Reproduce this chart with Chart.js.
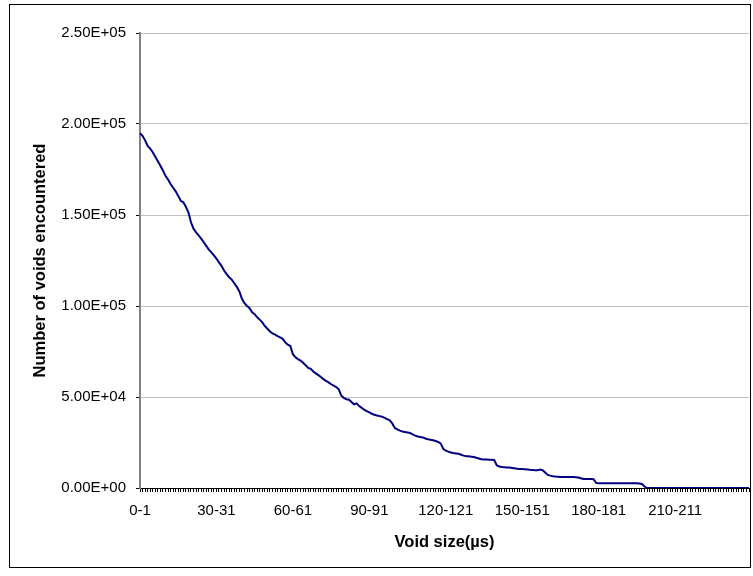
<!DOCTYPE html>
<html>
<head>
<meta charset="utf-8">
<title>Void size distribution</title>
<script src="https://cdn.jsdelivr.net/npm/chart.js@4.4.1/dist/chart.umd.min.js"></script>
<style>
  body { margin: 0; background: #fff; }
  #wrap { position: relative; width: 753px; height: 576px; }
</style>
</head>
<body>
<div id="wrap"><canvas id="voidChart" width="753" height="576"></canvas></div>
<script>
// number of voids (cumulative) per void size bin, 0-1 .. 239-240 us
var voidCounts = [
  195000, 193500, 191000, 188000, 186500, 184500, 182000, 179500, 177000, 174500,
  171500, 169500, 167000, 165000, 163000, 160500, 157800, 157000, 154500, 151500,
  146000, 142500, 140500, 138800, 137000, 135000, 133000, 131000, 129500, 127800,
  126000, 124000, 122000, 119500, 117500, 115800, 114500, 112500, 110500, 108000,
  104000, 101500, 100000, 98800, 96500, 95500, 93800, 92500, 91000, 89000,
  87500, 86000, 85000, 84300, 83500, 82800, 82000, 80000, 78800, 78000,
  73500, 71800, 70800, 70000, 68800, 67500, 66000, 65500, 64000, 63000,
  62000, 61000, 59800, 58800, 58000, 57000, 56200, 55500, 54200, 50800,
  49500, 48800, 48500, 47200, 46000, 46500, 45000, 44000, 43000, 42200,
  41500, 40800, 40200, 39800, 39500, 39200, 38500, 37800, 37200, 35500,
  33000, 32200, 31500, 31000, 30800, 30500, 30200, 29500, 28800, 28300,
  28000, 27800, 27200, 26800, 26500, 26200, 25800, 25300, 24500, 21500,
  20500, 20000, 19500, 19200, 19000, 18800, 18300, 17800, 17500, 17400,
  17200, 17000, 16600, 16200, 15800, 15600, 15600, 15500, 15500, 15400,
  12500, 11800, 11500, 11400, 11300, 11200, 11000, 10800, 10600, 10500,
  10400, 10300, 10200, 10000, 9900, 9800, 9700, 10200, 9800, 8500,
  7200, 6800, 6500, 6300, 6200, 6100, 6100, 6000, 6000, 6000,
  6000, 5900, 5800, 5400, 5000, 5000, 4900, 4900, 4800, 2800,
  2600, 2600, 2600, 2600, 2600, 2600, 2600, 2600, 2600, 2600,
  2600, 2600, 2600, 2600, 2600, 2600, 2500, 2200, 800, 0,
  0, 0, 0, 0, 0, 0, 0, 0, 0, 0,
  0, 0, 0, 0, 0, 0, 0, 0, 0, 0,
  0, 0, 0, 0, 0, 0, 0, 0, 0, 0,
  0, 0, 0, 0, 0, 0, 0, 0, 0, 0
];

// bin labels "0-1", "1-2", ... only every 30th one is shown on the axis
var sizeBins = [];
for (var i = 0; i < voidCounts.length; i++) {
  sizeBins.push(i + "-" + (i + 1));
}
var labelEvery = 30;

var yTicks = { min: 0, max: 250000, step: 50000 };

// Excel style scientific notation, e.g. 2.50E+05
function sciLabel(v) {
  if (v === 0) return "0.00E+00";
  var e = Math.floor(Math.log10(v));
  var m = v / Math.pow(10, e);
  return m.toFixed(2) + "E+" + String(e).padStart(2, "0");
}

// thin frame around the whole chart
var framePlugin = {
  id: "frame",
  afterDraw: function (chart) {
    var ctx = chart.ctx;
    ctx.save();
    ctx.strokeStyle = "#000";
    ctx.lineWidth = 1;
    ctx.strokeRect(9.5, 4.5, 741, 563);
    ctx.restore();
  }
};

var font = "'Liberation Sans', Arial, sans-serif";

var ctx = document.getElementById("voidChart").getContext("2d");
new Chart(ctx, {
  type: "line",
  data: {
    labels: sizeBins,
    datasets: [{
      data: voidCounts,
      borderColor: "#000080",
      borderWidth: 2,
      pointRadius: 0,
      tension: 0,
      fill: false
    }]
  },
  options: {
    responsive: false,
    animation: false,
    layout: { padding: { top: 33, right: 4, left: 0, bottom: 0 } },
    plugins: {
      legend: { display: false },
      tooltip: { enabled: false }
    },
    scales: {
      x: {
        type: "category",
        offset: false,
        afterFit: function (scale) {
          scale.height = 88;
          scale.paddingLeft = 0;
          scale.paddingRight = 0;
        },
        border: { color: "#000", width: 1 },
        grid: {
          drawOnChartArea: false,
          drawTicks: true,
          tickLength: 4,
          tickColor: "#000",
          tickWidth: 1
        },
        ticks: {
          autoSkip: false,
          maxRotation: 0,
          minRotation: 0,
          padding: 10,
          color: "#000",
          font: { family: font, size: 15 },
          callback: function (val, idx) {
            return idx % labelEvery === 0 ? sizeBins[idx] : "";
          }
        },
        title: {
          display: true,
          text: "Void size(µs)",
          color: "#000",
          font: { family: font, size: 16.5, weight: "bold" },
          padding: { bottom: 24, top: 0 }
        }
      },
      y: {
        min: yTicks.min,
        max: yTicks.max,
        afterFit: function (scale) { scale.width = 140; },
        border: { color: "#808080", width: 2 },
        grid: {
          color: "#c0c0c0",
          lineWidth: 1,
          tickLength: 4,
          tickColor: "#000"
        },
        ticks: {
          stepSize: yTicks.step,
          padding: 10,
          color: "#000",
          font: { family: font, size: 15 },
          callback: function (v) { return sciLabel(v); }
        },
        title: {
          display: true,
          text: "Number of voids encountered",
          color: "#000",
          font: { family: font, size: 16.5, weight: "bold" },
          padding: { top: 31, bottom: 0 }
        }
      }
    }
  },
  plugins: [framePlugin]
});
</script>
</body>
</html>
